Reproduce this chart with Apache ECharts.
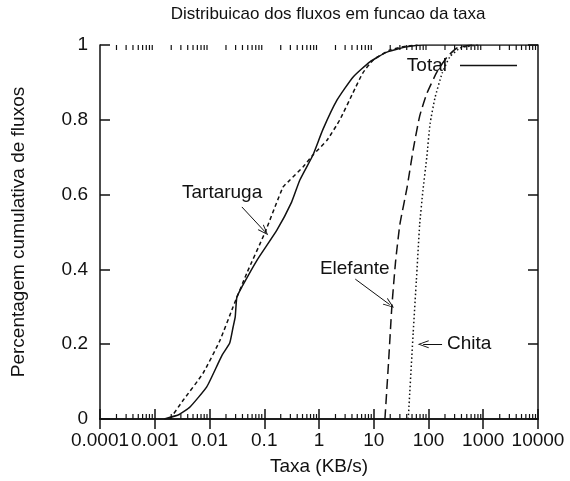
<!DOCTYPE html>
<html>
<head>
<meta charset="utf-8">
<script src="https://cdn.jsdelivr.net/npm/echarts@6/dist/echarts.min.js"></script>
<style>
  html, body { margin: 0; padding: 0; background: #fff; }
  #chart { width: 570px; height: 481px; }
</style>
</head>
<body>
<div id="chart"></div>
<script>
// Cumulative distribution of flows by rate (KB/s), log-scaled x axis
const xTickLabels = ['0.0001', '0.001', '0.01', '0.1', '1', '10', '100', '1000', '10000'];

const totalRate = [0.0015, 0.0028, 0.0044, 0.0089, 0.0145, 0.017, 0.0234, 0.027, 0.0295, 0.0316, 0.039, 0.074, 0.17, 0.316, 0.447, 0.776, 1.17, 2.14, 4.17, 8.5, 17.4, 40, 80, 10000];
const totalCdf  = [0,      0.012,  0.032,  0.086,  0.15,   0.171, 0.203,  0.246, 0.273,  0.326,  0.353, 0.425, 0.505, 0.58, 0.639, 0.706, 0.773, 0.853, 0.914, 0.955, 0.981, 0.995, 1, 1];

const tartRate = [0.0019, 0.0033, 0.0076, 0.0155, 0.027, 0.048, 0.102, 0.22, 0.295, 0.51, 0.776, 1.41, 2.4, 4.17, 6.3, 9.8, 20, 40, 63];
const tartCdf  = [0,      0.05,   0.122,  0.21,   0.30,  0.39,  0.497, 0.62, 0.639, 0.674, 0.706, 0.746, 0.80, 0.872, 0.925, 0.96, 0.987, 0.997, 1];

const elefRate = [16, 18.6, 21.4, 25, 30, 40.7, 52.5, 69, 93, 145, 219, 331, 630];
const elefCdf  = [0,  0.15, 0.30, 0.42, 0.52, 0.62, 0.72, 0.81, 0.87, 0.93, 0.968, 0.992, 1];

const chitaRate = [42.7, 52.5, 60, 69, 79, 93, 107, 132, 178, 245, 380, 800];
const chitaCdf  = [0,    0.23, 0.37, 0.52, 0.61, 0.70, 0.79, 0.86, 0.925, 0.968, 0.992, 1];

// Callout labels with their arrows: [label x, label y], [arrow from], [arrow to]
const tartLabel = [0.017, 0.604];
const tartArrow = [[0.039, 0.567], [0.101, 0.502]];
const elefLabel = [4.5, 0.401];
const elefArrow = [[4.6, 0.374], [19.5, 0.306]];
const chitaLabel = [218, 0.2];
const chitaArrow = [[177, 0.2], [80, 0.2]];

const FONT = '"Liberation Sans", Arial, Helvetica, sans-serif';
const INK = '#111';

function pairs(xs, ys) { return xs.map((x, i) => [x, ys[i]]); }

// minor tick positions for the log axis (2..9 within each decade)
const minorTickValues = [];
for (let e = -4; e < 4; e++) {
  for (let m = 2; m <= 9; m++) minorTickValues.push([m * Math.pow(10, e), 0]);
}

// open chevron arrowhead
const arrowHead = 'path://M5,0 L10,12 L8.8,12 L5,2.6 L1.2,12 L0,12 Z';

function callout(labelPos, arrow, text, align) {
  return {
    markLine: {
      silent: true,
      symbol: ['none', arrowHead],
      symbolSize: [8, 11],
      lineStyle: { type: 'solid', color: INK, width: 1 },
      label: { show: false },
      emphasis: { disabled: true },
      animation: false,
      data: [[{ coord: arrow[0] }, { coord: arrow[1] }]]
    },
    markPoint: {
      silent: true,
      animation: false,
      data: [{
        coord: labelPos,
        symbol: 'circle',
        symbolSize: 0,
        label: {
          show: true,
          position: 'inside',
          align: align,
          verticalAlign: 'middle',
          formatter: text,
          color: INK,
          fontFamily: FONT,
          fontSize: 19
        }
      }]
    }
  };
}

function curve(name, xs, ys, dash) {
  return {
    name: name,
    type: 'line',
    data: pairs(xs, ys),
    showSymbol: false,
    symbol: 'none',
    smooth: 0.15,
    z: 3,
    lineStyle: { color: INK, width: 1.5, type: dash },
    itemStyle: { color: INK }
  };
}

function axisLine() { return { show: true, lineStyle: { color: INK, width: 1.5 } }; }
function majorTick() { return { show: true, inside: true, length: 10, lineStyle: { color: INK, width: 1.5 } }; }

const chart = echarts.init(document.getElementById('chart'), null, { renderer: 'canvas' });

chart.setOption({
  animation: false,
  backgroundColor: '#fff',
  title: {
    text: 'Distribuicao dos fluxos em funcao da taxa',
    left: 323,
    textAlign: 'center',
    top: 1,
    textStyle: { fontFamily: FONT, fontSize: 17, fontWeight: 'normal', color: INK }
  },
  legend: {
    data: ['Total'],
    right: 48,
    top: 51,
    align: 'right',
    icon: 'rect',
    itemWidth: 57,
    itemHeight: 1.5,
    selectedMode: false,
    textStyle: { fontFamily: FONT, fontSize: 19, color: INK, padding: [0, 8, 0, 0] }
  },
  grid: { left: 100, right: 32, top: 45, bottom: 62, containLabel: false },
  xAxis: [{
    type: 'log',
    logBase: 10,
    min: 0.0001,
    max: 10000,
    interval: 1,
    name: 'Taxa (KB/s)',
    nameLocation: 'middle',
    nameGap: 38,
    nameTextStyle: { fontFamily: FONT, fontSize: 19, color: INK },
    axisLine: axisLine(),
    axisTick: majorTick(),
    axisLabel: {
      margin: 12,
      fontFamily: FONT, fontSize: 19, color: INK,
      formatter: v => xTickLabels[Math.round(Math.log10(v)) + 4]
    },
    splitLine: { show: false }
  }, {
    type: 'log',
    logBase: 10,
    position: 'top',
    min: 0.0001,
    max: 10000,
    interval: 1,
    axisLine: axisLine(),
    axisTick: majorTick(),
    axisLabel: { show: false },
    splitLine: { show: false }
  }],
  yAxis: [{
    type: 'value',
    min: 0,
    max: 1,
    interval: 0.2,
    name: 'Percentagem cumulativa de fluxos',
    nameLocation: 'middle',
    nameRotate: 90,
    nameGap: 72,
    nameTextStyle: { fontFamily: FONT, fontSize: 19, color: INK },
    axisLine: axisLine(),
    axisTick: majorTick(),
    axisLabel: { margin: 12, fontFamily: FONT, fontSize: 19, color: INK },
    splitLine: { show: false }
  }, {
    type: 'value',
    position: 'right',
    min: 0,
    max: 1,
    interval: 0.2,
    axisLine: axisLine(),
    axisTick: majorTick(),
    axisLabel: { show: false },
    splitLine: { show: false }
  }],
  series: [
    {
      name: 'minorTicks',
      type: 'custom',
      silent: true,
      clip: false,
      z: 5,
      xAxisIndex: 0,
      yAxisIndex: 0,
      data: minorTickValues,
      renderItem: function (params, api) {
        const v = api.value(0);
        const pBottom = api.coord([v, 0]);
        const pTop = api.coord([v, 1]);
        const style = { stroke: INK, lineWidth: 1.2 };
        return {
          type: 'group',
          children: [
            { type: 'line', shape: { x1: pBottom[0], y1: pBottom[1], x2: pBottom[0], y2: pBottom[1] - 5 }, style: style },
            { type: 'line', shape: { x1: pTop[0], y1: pTop[1], x2: pTop[0], y2: pTop[1] + 5 }, style: style }
          ]
        };
      }
    },
    curve('Total', totalRate, totalCdf, 'solid'),
    Object.assign(curve('Tartaruga', tartRate, tartCdf, [4, 3]), callout(tartLabel, tartArrow, 'Tartaruga', 'center')),
    Object.assign(curve('Elefante', elefRate, elefCdf, [10, 5]), callout(elefLabel, elefArrow, 'Elefante', 'center')),
    Object.assign(curve('Chita', chitaRate, chitaCdf, [1.5, 2.5]), callout(chitaLabel, chitaArrow, 'Chita', 'left'))
  ]
});
</script>
</body>
</html>
